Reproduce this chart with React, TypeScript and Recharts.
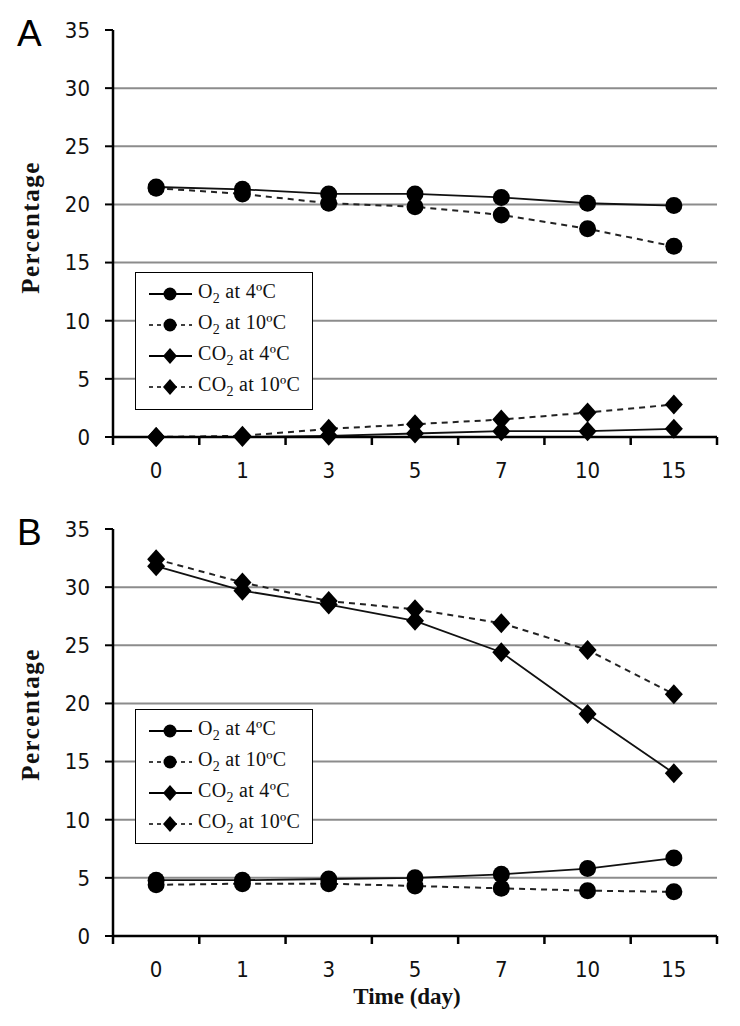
import React from "react";
import { LineChart, Line, XAxis, YAxis, ReferenceLine } from "recharts";

// time points (day)
const days = ["0", "1", "3", "5", "7", "10", "15"];
const yTicks = [0, 5, 10, 15, 20, 25, 30, 35];
const gridValues = [5, 10, 15, 20, 25, 30];
const xTicks = [-0.5, 0, 0.5, 1, 1.5, 2, 2.5, 3, 3.5, 4, 4.5, 5, 5.5, 6, 6.5];

// panel A
const aO2At4 = [21.5, 21.3, 20.9, 20.9, 20.6, 20.1, 19.9];
const aO2At10 = [21.4, 20.9, 20.1, 19.8, 19.1, 17.9, 16.4];
const aCO2At4 = [0, 0, 0.1, 0.3, 0.5, 0.5, 0.7];
const aCO2At10 = [0, 0.1, 0.7, 1.1, 1.5, 2.1, 2.8];

// panel B
const bO2At4 = [4.8, 4.8, 4.9, 5.0, 5.3, 5.8, 6.7];
const bO2At10 = [4.4, 4.5, 4.5, 4.3, 4.1, 3.9, 3.8];
const bCO2At4 = [31.8, 29.7, 28.5, 27.1, 24.4, 19.1, 14.0];
const bCO2At10 = [32.4, 30.4, 28.8, 28.1, 26.9, 24.6, 20.8];

const tickFont = "'Liberation Sans Narrow', 'DejaVu Sans Condensed', 'Liberation Sans', sans-serif";
const serif = "'Liberation Serif', 'Times New Roman', serif";

const buildRows = (o4: number[], o10: number[], c4: number[], c10: number[]) =>
  days.map((d, i) => ({ i, day: d, o4: o4[i], o10: o10[i], c4: c4[i], c10: c10[i] }));

const Diamond = ({ cx, cy, hw = 9, hh = 10 }: any) =>
  cx == null || cy == null ? null : (
    <path
      d={`M${cx},${cy - hh} L${cx + hw},${cy} L${cx},${cy + hh} L${cx - hw},${cy} Z`}
      fill="#000"
    />
  );

const XTick = ({ x, y, payload }: any) => {
  const v = payload.value;
  if (Number.isInteger(v)) {
    return (
      <text
        x={x}
        y={y + 33}
        textAnchor="middle"
        dominantBaseline="central"
        fontFamily={tickFont}
        fontSize={22}
        fill="#111"
      >
        {days[v]}
      </text>
    );
  }
  return <line x1={x} x2={x} y1={y} y2={y + 8} stroke="#000" strokeWidth={2.5} />;
};

const legendItems = [
  { dashed: false, diamond: false, gas: "O", sub: "2", temp: " at 4ºC" },
  { dashed: true, diamond: false, gas: "O", sub: "2", temp: " at 10ºC" },
  { dashed: false, diamond: true, gas: "CO", sub: "2", temp: " at 4ºC" },
  { dashed: true, diamond: true, gas: "CO", sub: "2", temp: " at 10ºC" },
];

const LegendBox = ({ top, height }: { top: number; height: number }) => (
  <div
    style={{
      position: "absolute",
      left: 135,
      top,
      width: 178,
      height,
      boxSizing: "border-box",
      border: "1.5px solid #000",
      background: "#fff",
      paddingTop: 5,
    }}
  >
    {legendItems.map((it, k) => (
      <div key={k} style={{ display: "flex", alignItems: "center", height: 31 }}>
        <svg width={60} height={20} style={{ marginLeft: 11 }}>
          <line
            x1={2}
            x2={45}
            y1={10}
            y2={10}
            stroke="#000"
            strokeWidth={it.dashed ? 1.5 : 2}
            strokeDasharray={it.dashed ? "4 4" : undefined}
          />
          {it.diamond ? (
            <Diamond cx={23} cy={10} hw={7} hh={8} />
          ) : (
            <circle cx={23} cy={10} r={6.5} fill="#000" />
          )}
        </svg>
        <span
          style={{
            fontFamily: serif,
            fontSize: 20,
            color: "#111",
            marginLeft: -9,
            whiteSpace: "nowrap",
            letterSpacing: 0.3,
          }}
        >
          {it.gas}
          <sub style={{ fontSize: 14 }}>{it.sub}</sub>
          {it.temp}
        </span>
      </div>
    ))}
  </div>
);

type PanelProps = {
  letter: string;
  top: number;
  height: number;
  marginTop: number;
  legendTop: number;
  legendHeight: number;
  rows: ReturnType<typeof buildRows>;
  labelShift: number;
  showTimeLabel?: boolean;
};

const Panel = ({
  letter,
  top,
  height,
  marginTop,
  legendTop,
  legendHeight,
  rows,
  labelShift,
  showTimeLabel,
}: PanelProps) => {
  const plotHeight = 407;
  const bottom = height - marginTop - plotHeight;
  return (
    <div style={{ position: "absolute", left: 0, top, width: 740, height }}>
      <LineChart
        width={740}
        height={height}
        data={rows}
        margin={{ top: marginTop, right: 23, left: 13, bottom: 0 }}
      >
        <XAxis
          dataKey="i"
          type="number"
          domain={[-0.5, 6.5]}
          ticks={xTicks}
          interval={0}
          tick={<XTick />}
          tickLine={false}
          tickSize={0}
          tickMargin={0}
          height={bottom}
          axisLine={{ stroke: "#000", strokeWidth: 2.5 }}
          label={
            showTimeLabel
              ? {
                  value: "Time (day)",
                  position: "insideBottom",
                  offset: 22,
                  dx: -8,
                  style: { fontFamily: serif, fontWeight: "bold", fontSize: 23, fill: "#111" },
                }
              : undefined
          }
        />
        <YAxis
          type="number"
          domain={[0, 35]}
          ticks={yTicks}
          interval={0}
          width={100}
          tickSize={8}
          tickMargin={15}
          tickLine={{ stroke: "#000", strokeWidth: 2 }}
          axisLine={{ stroke: "#000", strokeWidth: 2.5 }}
          tick={{ fontFamily: tickFont, fontSize: 22, fill: "#111" }}
          label={{
            value: "Percentage",
            angle: -90,
            position: "insideLeft",
            offset: 17,
            dy: labelShift,
            style: {
              textAnchor: "middle",
              fontFamily: serif,
              fontWeight: "bold",
              fontSize: 25,
              letterSpacing: 1.5,
              fill: "#111",
            },
          }}
        />
        {gridValues.map((v) => (
          <ReferenceLine key={v} y={v} stroke="#8c8c8c" strokeWidth={2} />
        ))}
        <Line
          dataKey="o4"
          stroke="#111"
          strokeWidth={1.8}
          dot={{ r: 8.5, fill: "#000", stroke: "#000", strokeWidth: 0 }}
          isAnimationActive={false}
        />
        <Line
          dataKey="o10"
          stroke="#222"
          strokeWidth={2}
          strokeDasharray="6 5"
          dot={{ r: 8.5, fill: "#000", stroke: "#000", strokeWidth: 0 }}
          isAnimationActive={false}
        />
        <Line
          dataKey="c4"
          stroke="#111"
          strokeWidth={1.8}
          dot={(p: any) => <Diamond key={`c4-${p.index}`} cx={p.cx} cy={p.cy} />}
          isAnimationActive={false}
        />
        <Line
          dataKey="c10"
          stroke="#222"
          strokeWidth={2}
          strokeDasharray="6 5"
          dot={(p: any) => <Diamond key={`c10-${p.index}`} cx={p.cx} cy={p.cy} />}
          isAnimationActive={false}
        />
      </LineChart>
      <div
        style={{
          position: "absolute",
          left: 17,
          top: marginTop - 15,
          fontFamily: "'Liberation Sans', Arial, sans-serif",
          fontSize: 37,
          lineHeight: "37px",
          color: "#000",
        }}
      >
        {letter}
      </div>
      <LegendBox top={legendTop - top} height={legendHeight} />
    </div>
  );
};

export default function App() {
  return (
    <div style={{ position: "absolute", left: 0, top: 0, width: 740, height: 1026, background: "#fff" }}>
      <Panel
        letter="A"
        top={0}
        height={490}
        marginTop={30}
        legendTop={272}
        legendHeight={138}
        labelShift={-6}
        rows={buildRows(aO2At4, aO2At10, aCO2At4, aCO2At10)}
      />
      <Panel
        letter="B"
        top={490}
        height={536}
        marginTop={39}
        legendTop={709}
        legendHeight={135}
        labelShift={-18}
        rows={buildRows(bO2At4, bO2At10, bCO2At4, bCO2At10)}
        showTimeLabel
      />
    </div>
  );
}
